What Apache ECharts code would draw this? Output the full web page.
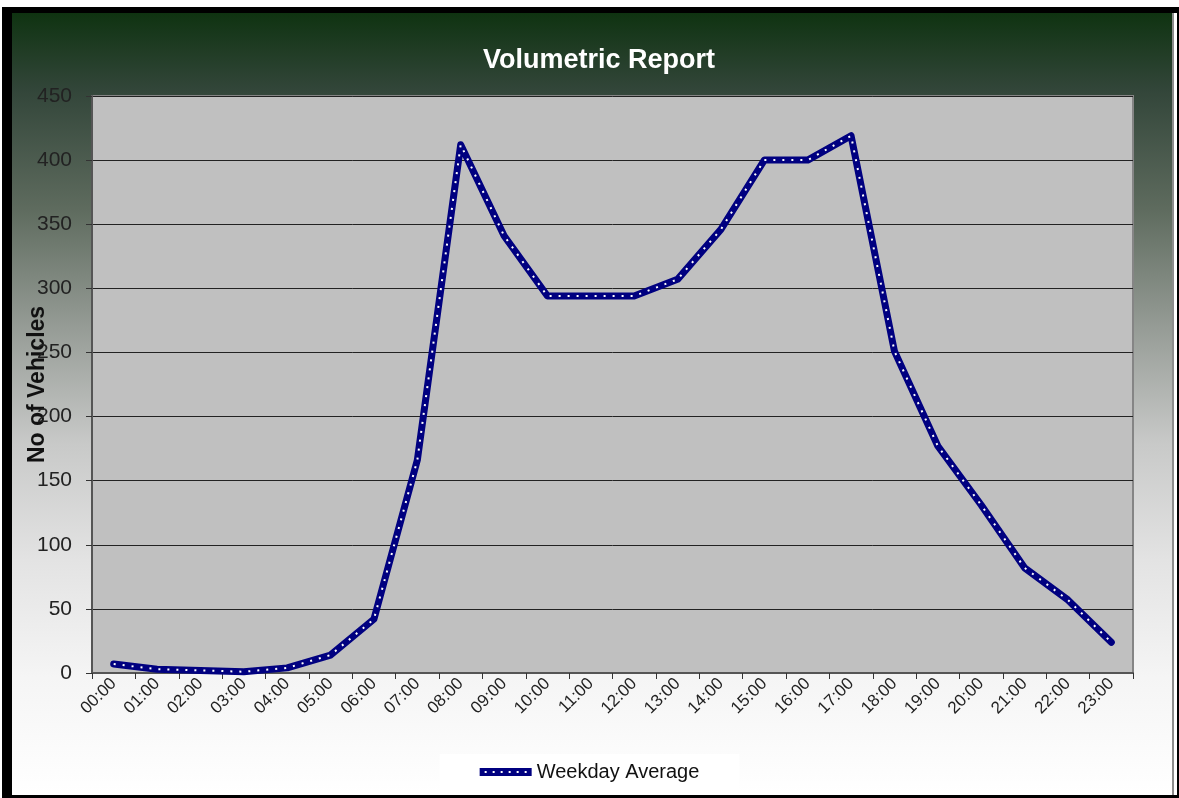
<!DOCTYPE html>
<html>
<head>
<meta charset="utf-8">
<title>Volumetric Report</title>
<script src="https://cdn.jsdelivr.net/npm/echarts@6/dist/echarts.min.js"></script>
<style>
  html, body { margin: 0; padding: 0; background: #fff; }
  #chart { width: 1179px; height: 798px; }
</style>
</head>
<body>
<div id="chart"></div>
<script>
// hourly counts, weekday average
var hours = ['00:00', '01:00', '02:00', '03:00', '04:00', '05:00', '06:00', '07:00',
  '08:00', '09:00', '10:00', '11:00', '12:00', '13:00', '14:00', '15:00',
  '16:00', '17:00', '18:00', '19:00', '20:00', '21:00', '22:00', '23:00'];
var weekdayAverage = [7, 3, 2, 1, 4, 14, 42, 166, 412, 341, 294, 294,
  294, 307, 346, 400, 400, 419, 251, 177, 131, 82, 57, 24];
var yTicks = { min: 0, max: 450, step: 50 };

var dom = document.getElementById('chart');
var myChart = echarts.init(dom, null, { renderer: 'canvas' });

var font = '"Liberation Sans", Arial, sans-serif';

// legend swatch: navy bar with little white holes, like the dotted line
var legendIcon = 'path://M0,0H52V8H0Z' +
  'M5,3V5H7V3Z M13,3V5H15V3Z M21,3V5H23V3Z M29,3V5H31V3Z M37,3V5H39V3Z M45,3V5H47V3Z';

var option = {
  backgroundColor: '#fff',
  animation: false,
  graphic: [
    { type: 'rect', z: -10, shape: { x: 2, y: 7, width: 1177, height: 791 }, style: { fill: '#000' } },
    { type: 'rect', z: -9, shape: { x: 1173, y: 13, width: 4, height: 782 }, style: { fill: '#fff' } },
    { type: 'rect', z: -9, shape: { x: 1172, y: 13, width: 2, height: 782 }, style: { fill: '#8c8c8c' } },
    {
      type: 'rect', z: -9,
      shape: { x: 12, y: 13, width: 1160, height: 782 },
      style: {
        fill: new echarts.graphic.LinearGradient(0, 0, 0, 1, [
          { offset: 0, color: '#0f3311' },
          { offset: 0.1, color: '#33463a' },
          { offset: 0.25, color: '#5e6b5e' },
          { offset: 0.4, color: '#959b95' },
          { offset: 0.55, color: '#c8c9c8' },
          { offset: 0.7, color: '#e3e3e3' },
          { offset: 0.85, color: '#f5f5f5' },
          { offset: 1, color: '#ffffff' }
        ])
      }
    }
  ],
  title: {
    text: 'Volumetric Report',
    left: 478,
    top: 42,
    textStyle: { color: '#fff', fontSize: 27, fontWeight: 'bold', fontFamily: font }
  },
  legend: {
    data: [{ name: 'Weekday Average', icon: legendIcon }],
    bottom: 8,
    left: 'center',
    backgroundColor: '#fff',
    padding: [8, 40, 8, 40],
    itemWidth: 52,
    itemHeight: 8,
    itemGap: 4,
    textStyle: { color: '#111', fontSize: 20, fontFamily: font }
  },
  grid: {
    left: 92, right: 46, top: 96, bottom: 125,
    outerBoundsMode: 'none',
    show: true,
    backgroundColor: '#c0c0c0',
    borderColor: '#858585',
    borderWidth: 2
  },
  xAxis: {
    type: 'category',
    data: hours,
    boundaryGap: true,
    axisLine: { lineStyle: { color: '#555', width: 2 } },
    axisTick: { show: true, length: 6, lineStyle: { color: '#333' } },
    axisLabel: {
      rotate: 45, margin: 8, interval: 0,
      color: '#222', fontSize: 17, fontFamily: font
    }
  },
  yAxis: {
    type: 'value',
    min: yTicks.min,
    max: yTicks.max,
    interval: yTicks.step,
    name: 'No of Vehicles',
    nameLocation: 'middle',
    nameGap: 54,
    nameRotate: 90,
    nameMoveOverlap: false,
    nameTextStyle: {
      color: '#111', fontSize: 23, fontWeight: 'bold', fontFamily: font,
      verticalAlign: 'middle'
    },
    axisLine: { show: true, lineStyle: { color: '#555', width: 2 } },
    axisTick: { show: true, length: 6, lineStyle: { color: '#333' } },
    axisLabel: { margin: 20, color: '#222', fontSize: 21, fontFamily: font },
    splitLine: { lineStyle: { color: '#222', width: 1 } }
  },
  series: [
    {
      name: 'Weekday Average',
      type: 'line',
      data: weekdayAverage,
      symbol: 'none',
      color: '#000080',
      lineStyle: { color: '#000080', width: 7, cap: 'round', join: 'round' },
      z: 3
    },
    {
      name: 'dots',
      type: 'line',
      data: weekdayAverage,
      symbol: 'none',
      silent: true,
      lineStyle: { color: '#ffffff', width: 2, type: [2, 7], cap: 'butt' },
      z: 4
    }
  ]
};

if (option && typeof option === 'object') {
  myChart.setOption(option);
}

window.addEventListener('resize', myChart.resize);
</script>
</body>
</html>
